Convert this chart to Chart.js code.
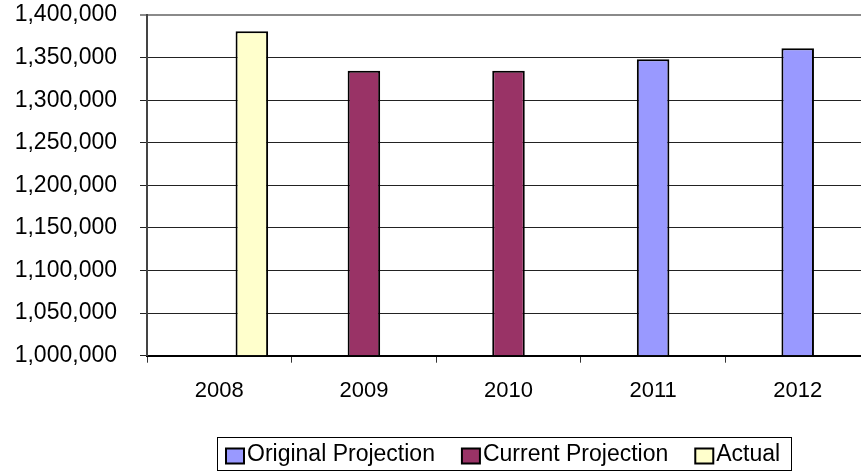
<!DOCTYPE html>
<html>
<head>
<meta charset="utf-8">
<script src="https://cdn.jsdelivr.net/npm/chart.js@4/dist/chart.umd.min.js"></script>
<style>
html,body{margin:0;padding:0;background:#fff;overflow:hidden;width:861px;height:474px}
#wrap{position:absolute;left:0;top:0;width:872px;height:474px}
</style>
</head>
<body>
<div id="wrap"><canvas id="c" width="872" height="474"></canvas></div>
<script>
// ---- data ----
const categories = ['2008', '2009', '2010', '2011', '2012'];
const originalProjection = [null, null, null, 1348000, 1361000];
const currentProjection = [null, 1334500, 1334500, null, null];
const actual = [1381000, null, null, null, null];
const emptySlot = [null, null, null, null, null];
const seriesNames = ['Original Projection', 'Current Projection', 'Actual'];
const yMin = 1000000, yMax = 1400000, yStep = 50000;

const FONT = '"Liberation Sans", Arial, Helvetica, sans-serif';

const boxedLegend = {
  id: 'boxedLegend',
  afterDraw(chart, args, opts) {
    const ctx = chart.ctx;
    const items = chart.data.datasets.filter(d => !d.hideInLegend);
    ctx.save();
    ctx.font = opts.fontSize + 'px ' + FONT;
    const widths = items.map(d => ctx.measureText(d.label).width);
    let w = opts.padLeft + opts.padRight;
    widths.forEach((tw, i) => { w += opts.sqW + opts.gap + tw + (i < items.length - 1 ? opts.itemGap : 0); });
    const left = Math.round(opts.centerX - w / 2);
    ctx.strokeStyle = '#000';
    ctx.lineWidth = 1;
    ctx.strokeRect(left + 0.5, opts.top + 0.5, Math.round(w), opts.height);
    let x = left + opts.padLeft;
    items.forEach((d, i) => {
      const sy = opts.sqCenter - opts.sqH / 2;
      ctx.fillStyle = '#000';
      ctx.fillRect(x, sy, opts.sqW, opts.sqH);
      ctx.fillStyle = d.backgroundColor;
      ctx.fillRect(x + 2, sy + 2, opts.sqW - 4, opts.sqH - 4);
      ctx.fillStyle = '#000';
      ctx.textBaseline = 'middle';
      ctx.textAlign = 'left';
      ctx.fillText(d.label, x + opts.sqW + opts.gap, opts.textCenter);
      x += opts.sqW + opts.gap + widths[i] + opts.itemGap;
    });
    ctx.restore();
  }
};

new Chart(document.getElementById('c'), {
  type: 'bar',
  data: {
    labels: categories,
    datasets: [
      { label: '', data: emptySlot, stack: 'slot0', hideInLegend: true, backgroundColor: 'rgba(0,0,0,0)' },
      { label: seriesNames[0], data: originalProjection, stack: 'projection', backgroundColor: '#9999FF' },
      { label: seriesNames[1], data: currentProjection, stack: 'projection', backgroundColor: '#993366' },
      { label: seriesNames[2], data: actual, stack: 'actual', backgroundColor: '#FFFFCC' }
    ]
  },
  options: {
    responsive: false,
    animation: false,
    events: [],
    layout: { padding: { top: 15, right: 2, left: 0, bottom: 0 } },
    datasets: {
      bar: {
        borderColor: '#000',
        borderWidth: 2,
        borderSkipped: 'start',
        categoryPercentage: 0.675,
        barPercentage: 1,
        base: yMin
      }
    },
    plugins: {
      legend: { display: false },
      tooltip: { enabled: false },
      boxedLegend: {
        fontSize: 23, sqW: 20, sqH: 17, gap: 2, itemGap: 26, padLeft: 8, padRight: 11,
        centerX: 504, top: 437, height: 33, sqCenter: 456, textCenter: 455
      }
    },
    scales: {
      x: {
        type: 'category',
        offset: true,
        afterFit(scale) { scale.height = 118.3; },
        grid: { offset: true, drawOnChartArea: false, drawTicks: true, tickLength: 7, color: '#333', lineWidth: 1 },
        border: { display: true, color: '#000', width: 2 },
        ticks: { color: '#000', padding: 15, font: { family: FONT, size: 22 }, maxRotation: 0, autoSkip: false }
      },
      y: {
        type: 'linear',
        stacked: false,
        min: yMin,
        max: yMax,
        afterFit(scale) { scale.width = 147; scale.paddingTop = 0; scale.paddingBottom = 0; },
        grid: {
          drawTicks: true,
          tickLength: 7,
          color: ctx => (ctx.tick && ctx.tick.value === yMax) ? '#8a8a8a' : '#222',
          lineWidth: ctx => (ctx.tick && ctx.tick.value === yMax) ? 2 : 1
        },
        border: { display: true, color: '#444', width: 2 },
        ticks: {
          stepSize: yStep,
          color: '#000',
          padding: 23,
          font: { family: FONT, size: 23 },
          callback: v => Number(v).toLocaleString('en-US')
        }
      }
    }
  },
  plugins: [boxedLegend]
});
</script>
</body>
</html>
